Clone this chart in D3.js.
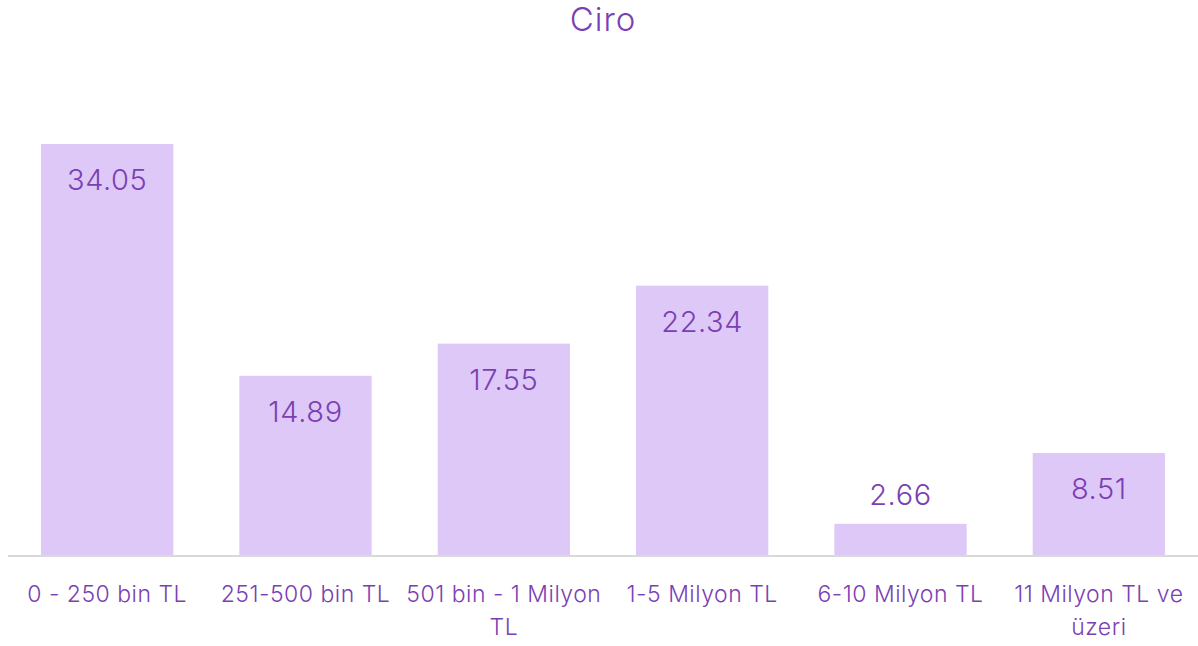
<!DOCTYPE html>
<html><head><meta charset="utf-8">
<script src="https://cdn.jsdelivr.net/npm/d3@7"></script>
<style>body{margin:0;background:#fff}svg{display:block}</style>
</head><body>
<svg id="c" width="1198" height="646"></svg>
<script>
const categories = ["0 - 250 bin TL","251-500 bin TL","501 bin - 1 Milyon TL","1-5 Milyon TL","6-10 Milyon TL","11 Milyon TL ve üzeri"];
const values = [34.05, 14.89, 17.55, 22.34, 2.66, 8.51];
const title = "Ciro";

const W = 1198, H = 646;
const textColor = "#7b3fb3", barColor = "#dec8f7";
const font = "Inter, 'Noto Sans', sans-serif";
const svg = d3.select("#c");
const x = d3.scaleBand().domain(categories).range([8, 1198]).paddingInner(0.333).paddingOuter(0.1665);
const y = d3.scaleLinear().domain([0, 40]).range([556, 72]);

svg.append("text").attr("x", W/2 + 4).attr("y", 31).attr("text-anchor","middle")
  .attr("font-family", font).attr("font-weight", 300).attr("font-size", 33)
  .attr("letter-spacing", 1).attr("fill", textColor).text(title);

svg.selectAll("rect.bar").data(values).join("rect").attr("class","bar")
  .attr("x",(d,i)=>x(categories[i])).attr("width",x.bandwidth())
  .attr("y",d=>y(d)).attr("height",d=>y(0)-y(d)).attr("fill",barColor);

svg.append("line").attr("x1",8).attr("x2",1198).attr("y1",556).attr("y2",556)
  .attr("stroke","#d9d9d9").attr("stroke-width",2);

svg.selectAll("text.val").data(values).join("text").attr("class","val")
  .attr("x",(d,i)=>x(categories[i])+x.bandwidth()/2)
  .attr("y",d=> (y(0)-y(d) > 50) ? y(d)+46 : y(d)-19)
  .attr("text-anchor","middle").attr("font-family",font).attr("font-weight",300)
  .attr("font-size",29).attr("letter-spacing",0.6).attr("fill",textColor).text(d=>d3.format(".2f")(d));

// axis labels with wrapping
const maxW = 205;
const g = svg.append("g").attr("font-family",font).attr("font-weight",300).attr("font-size",23)
  .attr("letter-spacing",0.5).attr("fill",textColor);
categories.forEach(c=>{
  const cx = x(c)+x.bandwidth()/2;
  const t = g.append("text").attr("x", cx).attr("y",602).attr("text-anchor","middle");
  const words = c.split(" ");
  let line = [];
  let ts = t.append("tspan").attr("x", cx).attr("dy",0);
  words.forEach(w=>{
    line.push(w); ts.text(line.join(" "));
    if (ts.node().getComputedTextLength() > maxW && line.length>1){
      line.pop(); ts.text(line.join(" "));
      line=[w];
      ts = t.append("tspan").attr("x", cx).attr("dy",33).text(w);
    }
  });
});
</script>
</body></html>
